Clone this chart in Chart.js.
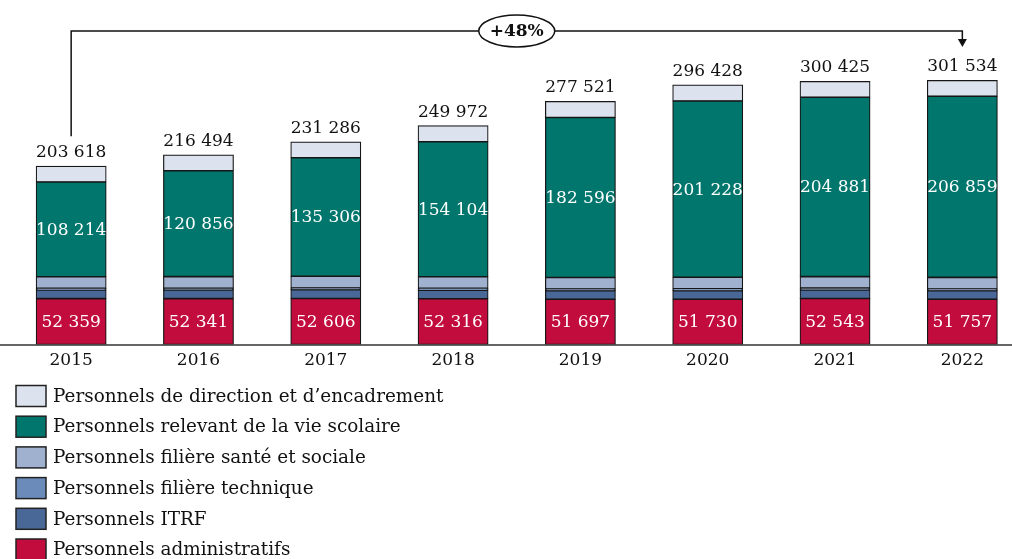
<!DOCTYPE html>
<html>
<head>
<meta charset="utf-8">
<script src="https://cdn.jsdelivr.net/npm/chart.js"></script>
<style>
  html, body { margin: 0; padding: 0; background: #fff; overflow: hidden; }
  #wrap { position: absolute; left: 0; top: 0; width: 1030px; height: 559px; }
</style>
</head>
<body>
<div id="wrap"><canvas id="chart" width="1030" height="559"></canvas></div>
<script>
const years = ['2015', '2016', '2017', '2018', '2019', '2020', '2021', '2022'];
const administratifs = [52359, 52341, 52606, 52316, 51697, 51730, 52543, 51757];
const itrf = [9800, 9900, 9900, 9800, 9700, 9800, 9800, 9700];
const technique = [2000, 2000, 2000, 2000, 2000, 2000, 2000, 2000];
const santeSociale = [13200, 13300, 13400, 13300, 13200, 13300, 13200, 13200];
const vieScolaire = [108214, 120856, 135306, 154104, 182596, 201228, 204881, 206859];
const direction = [18045, 18097, 18074, 18452, 18328, 18370, 18001, 18018];
const totals = [203618, 216494, 231286, 249972, 277521, 296428, 300425, 301534];

const FONT = '"DejaVu Serif", "Liberation Serif", serif';
const fmt = v => String(v).replace(/\B(?=(\d{3})+(?!\d))/g, ' ');

const series = [
  { label: 'Personnels administratifs', data: administratifs, color: '#c20c3e', inside: true },
  { label: 'Personnels ITRF', data: itrf, color: '#4a6897' },
  { label: 'Personnels filière technique', data: technique, color: '#6b8cbb' },
  { label: 'Personnels filière santé et sociale', data: santeSociale, color: '#9fb1cf' },
  { label: 'Personnels relevant de la vie scolaire', data: vieScolaire, color: '#00766c', inside: true },
  { label: 'Personnels de direction et d\u2019encadrement', data: direction, color: '#dde3ee' }
];

const overlay = {
  id: 'overlay',
  afterDatasetsDraw(chart) {
    const ctx = chart.ctx;
    const area = chart.chartArea;
    ctx.save();
    ctx.font = '17px ' + FONT;
    ctx.textAlign = 'center';

    // values inside the red and green segments
    chart.data.datasets.forEach((ds, i) => {
      if (!series[i].inside) return;
      chart.getDatasetMeta(i).data.forEach((bar, j) => {
        ctx.fillStyle = '#ffffff';
        ctx.textBaseline = 'middle';
        ctx.fillText(fmt(ds.data[j]), bar.x, (bar.y + bar.base) / 2 + 1);
      });
    });

    // totals above bars
    const topMeta = chart.getDatasetMeta(series.length - 1);
    topMeta.data.forEach((bar, j) => {
      ctx.fillStyle = '#111';
      ctx.textBaseline = 'alphabetic';
      ctx.fillText(fmt(totals[j]), bar.x, bar.y - 9);
    });

    // baseline axis
    ctx.strokeStyle = '#333';
    ctx.lineWidth = 1.5;
    ctx.beginPath();
    ctx.moveTo(0, area.bottom + 0.5);
    ctx.lineTo(chart.width, area.bottom + 0.5);
    ctx.stroke();

    // growth arrow
    const first = topMeta.data[0];
    const last = topMeta.data[topMeta.data.length - 1];
    const yLine = 31;
    ctx.strokeStyle = '#111';
    ctx.lineWidth = 1.5;
    ctx.beginPath();
    ctx.moveTo(first.x, first.y - 30);
    ctx.lineTo(first.x, yLine);
    ctx.lineTo(last.x, yLine);
    ctx.lineTo(last.x, 40);
    ctx.stroke();
    ctx.fillStyle = '#111';
    ctx.beginPath();
    ctx.moveTo(last.x - 4.5, 39);
    ctx.lineTo(last.x + 4.5, 39);
    ctx.lineTo(last.x, 47);
    ctx.closePath();
    ctx.fill();

    const cx = (first.x + last.x) / 2;
    ctx.fillStyle = '#fff';
    ctx.beginPath();
    ctx.ellipse(cx, yLine, 38, 16, 0, 0, Math.PI * 2);
    ctx.fill();
    ctx.stroke();
    const growth = Math.round((totals[totals.length - 1] / totals[0] - 1) * 100);
    ctx.fillStyle = '#111';
    ctx.font = 'bold 17px ' + FONT;
    ctx.textBaseline = 'middle';
    ctx.fillText('+' + growth + '%', cx, yLine + 1);

    // legend
    ctx.font = '18.4px ' + FONT;
    ctx.textAlign = 'left';
    ctx.textBaseline = 'middle';
    series.slice().reverse().forEach((s, k) => {
      const y = 396 + k * 30.7;
      ctx.fillStyle = s.color;
      ctx.fillRect(16, y - 10.5, 30, 21);
      ctx.strokeStyle = '#222';
      ctx.lineWidth = 1.5;
      ctx.strokeRect(16, y - 10.5, 30, 21);
      ctx.fillStyle = '#111';
      ctx.fillText(s.label, 53, y + 1);
    });
    ctx.restore();
  }
};

new Chart(document.getElementById('chart'), {
  type: 'bar',
  data: {
    labels: years,
    datasets: series.map(s => ({
      label: s.label,
      data: s.data,
      backgroundColor: s.color,
      borderColor: '#161616',
      borderWidth: 1.2,
      borderSkipped: false,
      inflateAmount: 0.4,
      barPercentage: 0.55,
      categoryPercentage: 1.0
    }))
  },
  options: {
    responsive: false,
    animation: false,
    layout: { padding: { left: 7.5, right: 4, top: 3, bottom: 174.5 } },
    plugins: {
      legend: { display: false },
      tooltip: { enabled: false }
    },
    scales: {
      x: {
        stacked: true,
        grid: { display: false, drawTicks: false },
        border: { display: false },
        ticks: { color: '#111', font: { family: FONT, size: 17 }, padding: 6 },
        afterFit(scale) { scale.height = 40; }
      },
      y: {
        stacked: true,
        display: false,
        min: 0,
        max: 390000
      }
    }
  },
  plugins: [overlay]
});
</script>
</body>
</html>
